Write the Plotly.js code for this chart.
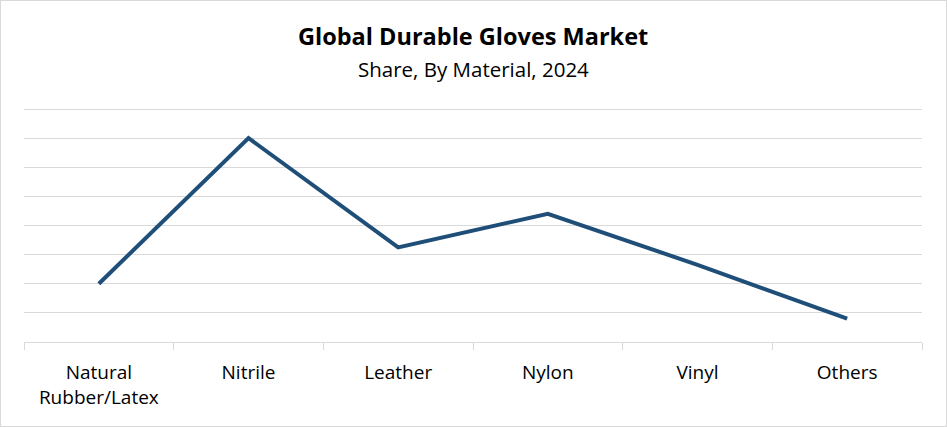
<!DOCTYPE html>
<html>
<head>
<meta charset="utf-8">
<script src="https://cdn.plot.ly/plotly-3.0.1.min.js"></script>
<style>
  html, body { margin: 0; padding: 0; background: #fff; }
  #chart { width: 947px; height: 427px; box-sizing: border-box; border: 1px solid #d9d9d9; }
</style>
</head>
<body>
<div id="chart"></div>
<script>
const categories = ["Natural<br>Rubber/Latex", "Nitrile", "Leather", "Nylon", "Vinyl", "Others"];
const shareValues = [2.0, 7.0, 3.25, 4.4, 2.65, 0.8];
const chartTitle = "Global Durable Gloves Market";
const chartSubtitle = "Share, By Material, 2024";

const trace = {
  type: "scatter",
  mode: "lines",
  x: categories,
  y: shareValues,
  line: { color: "#1F4E79", width: 4 },
  hoverinfo: "x+y"
};

const layout = {
  width: 945,
  height: 425,
  margin: { l: 23, r: 24, t: 105, b: 84 },
  paper_bgcolor: "#ffffff",
  plot_bgcolor: "#ffffff",
  showlegend: false,
  font: { family: "Open Sans, sans-serif", color: "#000000" },
  xaxis: {
    type: "category",
    range: [-0.5, 5.5],
    tickson: "boundaries",
    ticks: "outside",
    ticklen: 7,
    tickcolor: "#d9d9d9",
    tickwidth: 1,
    showline: true,
    linecolor: "#d9d9d9",
    linewidth: 1,
    showgrid: false,
    ticklabelstandoff: 13,
    tickfont: { size: 19, family: "Open Sans, sans-serif", color: "#000" },
    fixedrange: true
  },
  yaxis: {
    range: [0, 8.103],
    tickvals: [1, 2, 3, 4, 5, 6, 7, 8],
    showticklabels: false,
    showgrid: true,
    gridcolor: "#d9d9d9",
    gridwidth: 1,
    zeroline: false,
    showline: false,
    fixedrange: true
  },
  annotations: [
    {
      text: "<b>" + chartTitle + "</b>",
      xref: "paper", yref: "paper",
      x: 0.5, y: 1, yshift: 70,
      xanchor: "center", yanchor: "middle",
      showarrow: false,
      font: { size: 23.5, family: "Open Sans, sans-serif", color: "#000" }
    },
    {
      text: chartSubtitle,
      xref: "paper", yref: "paper",
      x: 0.5, y: 1, yshift: 37,
      xanchor: "center", yanchor: "middle",
      showarrow: false,
      font: { size: 20.5, family: "Open Sans, sans-serif", color: "#000" }
    }
  ]
};

Plotly.newPlot("chart", [trace], layout, { displayModeBar: false, staticPlot: true });
</script>
</body>
</html>
